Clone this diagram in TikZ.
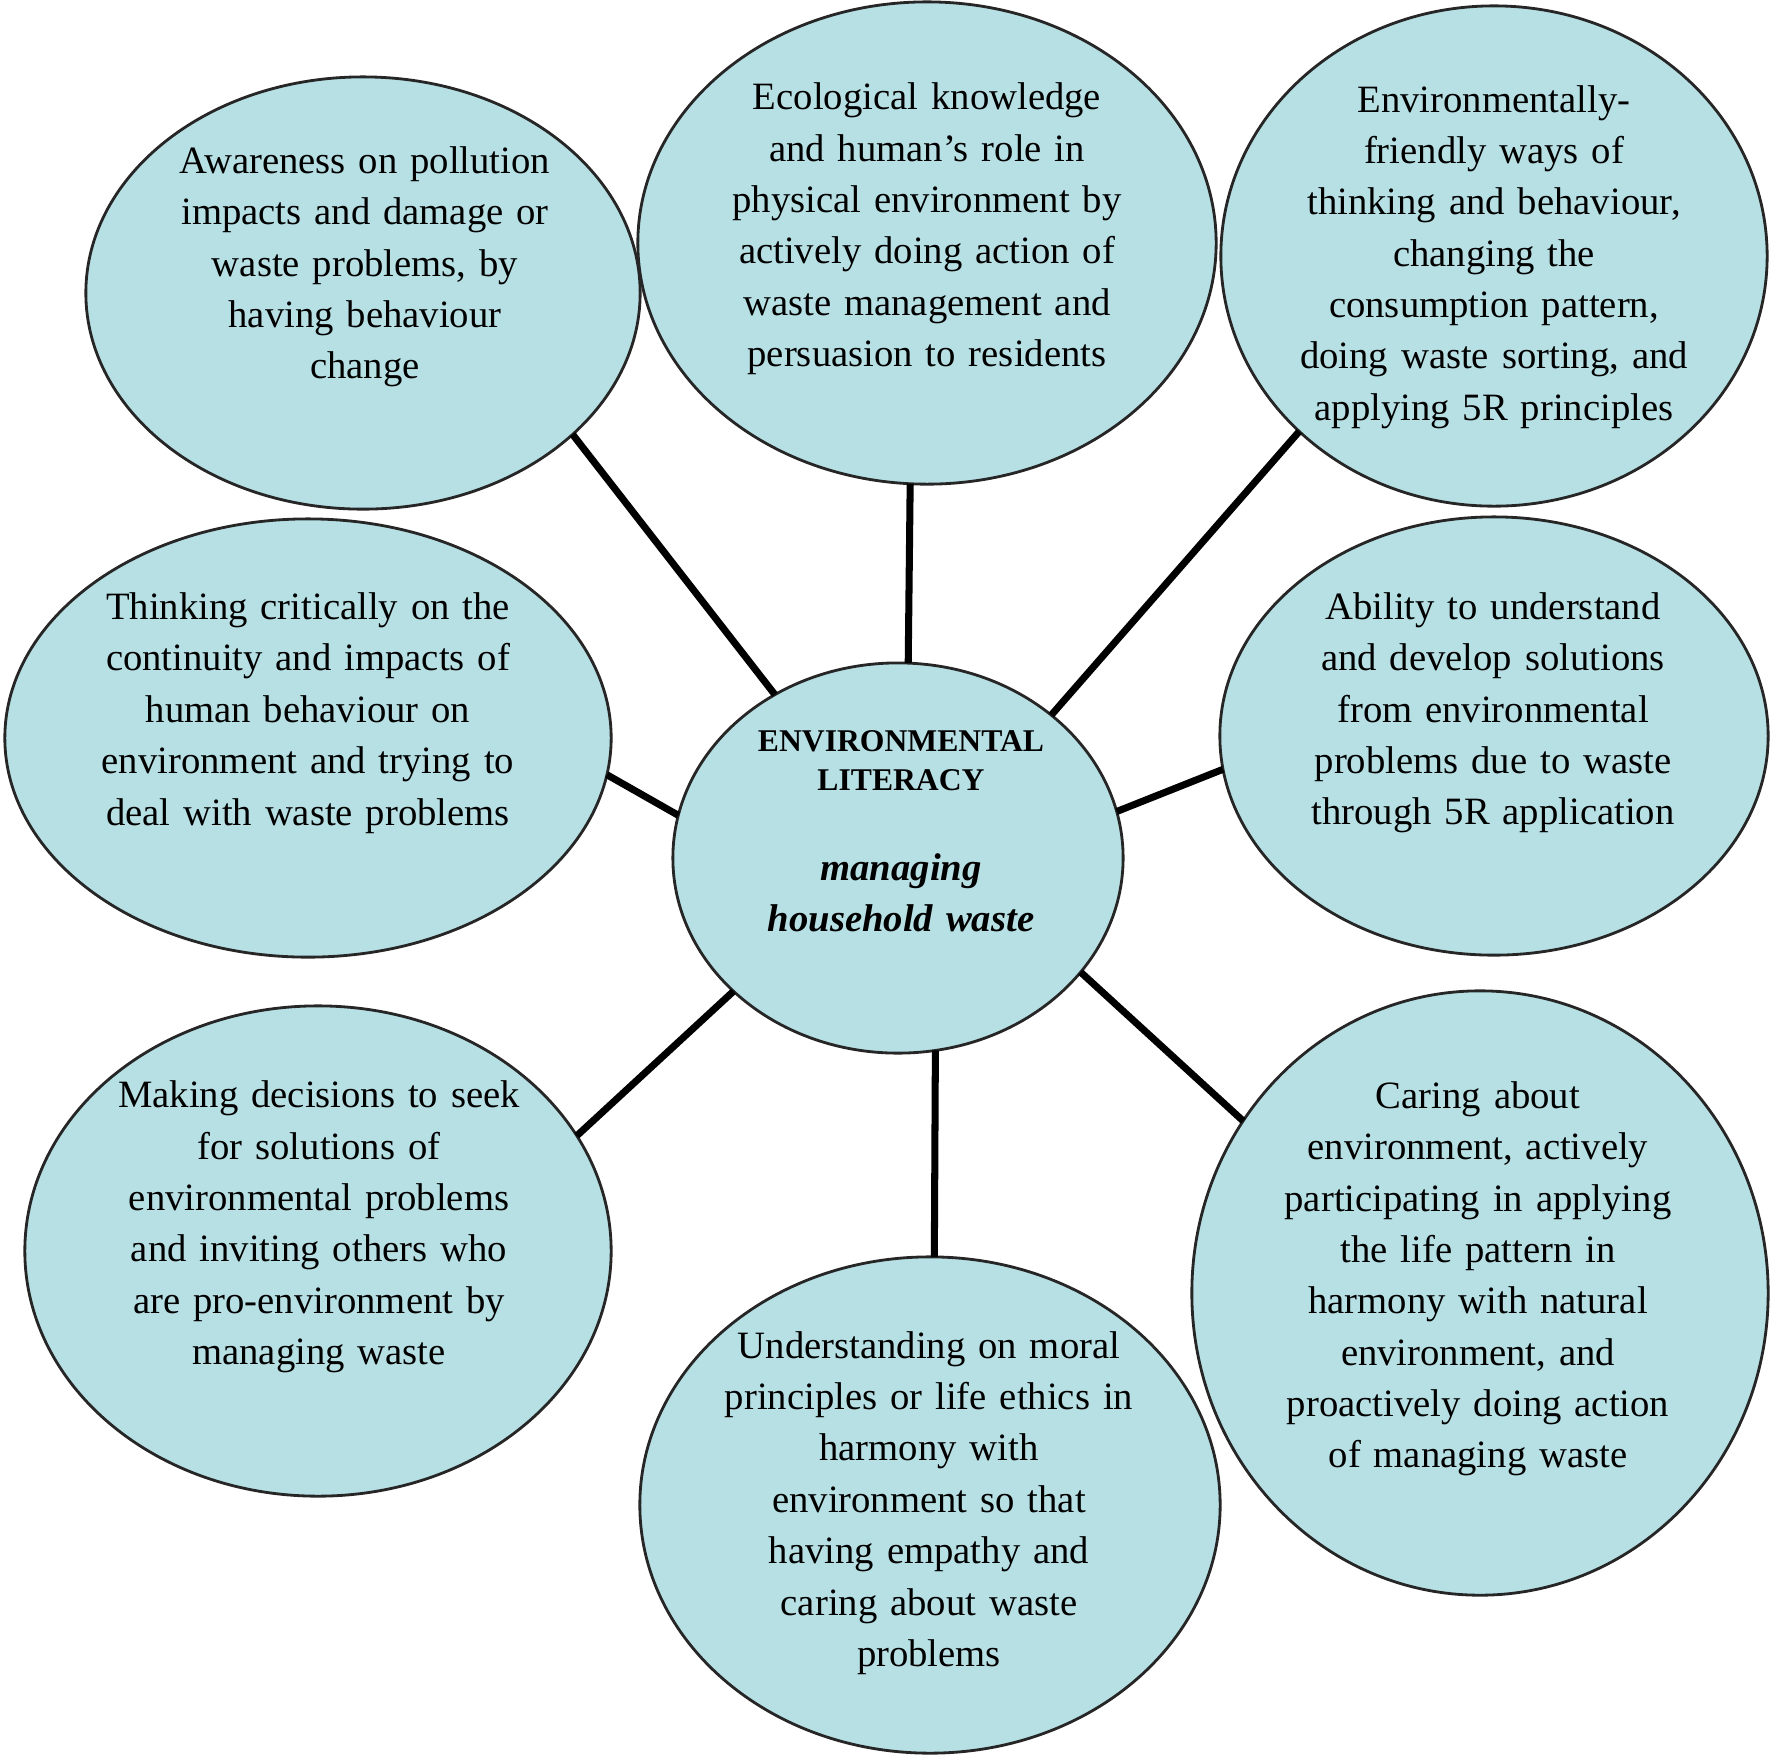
\documentclass[tikz,border=0pt]{standalone}
\usepackage{fontspec}
\setmainfont{Liberation Serif}
\usetikzlibrary{shapes.geometric}
\definecolor{bubblefill}{RGB}{183,224,228}
\tikzset{
    bubble/.style={
        draw=black!85, line width=0.8pt, ellipse, fill=bubblefill, inner sep=0pt, outer sep=0pt
    },
    bubbletext/.style={
        align=center, text width=5cm, inner sep=0pt, text=black, font=\fontsize{11}{14.6}\selectfont
    },
    link/.style={
        line width=2pt, black
    }
}

\begin{document}
\begin{tikzpicture}[x=0.01cm, y=-0.01cm]  % one unit = one pixel of the page
    \useasboundingbox (0,0) rectangle (1772,1759);

    % bubbles
    \node (awareness) [bubble, minimum width=5.54cm, minimum height=4.32cm] at (363,293) {};
    \node (knowledge) [bubble, minimum width=5.78cm, minimum height=4.82cm] at (927,243) {};
    \node (friendly) [bubble, minimum width=5.46cm, minimum height=5.00cm] at (1494,256) {};
    \node (critical) [bubble, minimum width=6.06cm, minimum height=4.38cm] at (308,738) {};
    \node (literacy) [bubble, minimum width=4.50cm, minimum height=3.90cm] at (898,858) {};
    \node (ability) [bubble, minimum width=5.48cm, minimum height=4.38cm] at (1494,736) {};
    \node (decision) [bubble, minimum width=5.86cm, minimum height=4.90cm] at (318,1251) {};
    \node (ethics) [bubble, minimum width=5.80cm, minimum height=4.96cm] at (930,1505) {};
    \node (caring) [bubble, minimum width=5.76cm, minimum height=6.04cm] at (1480,1293) {};

    % texts
    \node (awareness-text) [bubbletext] at (365,267) {Awareness on pollution\\impacts and damage or\\waste problems, by\\having behaviour\\change};
    \node (knowledge-text) [bubbletext] at (927,229) {Ecological knowledge\\and human’s role in\\physical environment by\\actively doing action of\\waste management and\\persuasion to residents};
    \node (friendly-text) [bubbletext] at (1494,257) {Environmentally-\\friendly ways of\\thinking and behaviour,\\changing the\\consumption pattern,\\doing waste sorting, and\\applying 5R principles};
    \node (critical-text) [bubbletext] at (308,713) {Thinking critically on the\\continuity and impacts of\\human behaviour on\\environment and trying to\\deal with waste problems};
    \node (literacy-text) [bubbletext] at (901,831) {\fontsize{9}{11.3}\selectfont\textbf{ENVIRONMENTAL}\\\textbf{LITERACY}\\[12pt]\fontsize{11}{13.4}\selectfont\textbf{\textit{managing}}\\\textbf{\textit{household waste}}};
    \node (ability-text) [bubbletext] at (1493,713) {Ability to understand\\and develop solutions\\from environmental\\problems due to waste\\through 5R application};
    \node (decision-text) [bubbletext] at (319,1227) {Making decisions to seek\\for solutions of\\environmental problems\\and inviting others who\\are pro-environment by\\managing waste};
    \node (ethics-text) [bubbletext] at (929,1503) {Understanding on moral\\principles or life ethics in\\harmony with\\environment so that\\having empathy and\\caring about waste\\problems};
    \node (caring-text) [bubbletext] at (1478,1279) {Caring about\\environment, actively\\participating in applying\\the life pattern in\\harmony with natural\\environment, and\\proactively doing action\\of managing waste};

    % links
    \draw [link] (awareness.-34) -- (literacy.127);
    \draw [link] (knowledge.-94) -- (literacy.87);
    \draw [link] (friendly.222) -- (literacy.43);
    \draw [link] (critical.-7) -- (literacy.169);
    \draw [link] (ability.187) -- (literacy.12);
    \draw [link] (decision.24) -- (literacy.219);
    \draw [link] (literacy.281) -- (ethics.89);
    \draw [link] (literacy.-32) -- (caring.144);

\end{tikzpicture}
\end{document}
